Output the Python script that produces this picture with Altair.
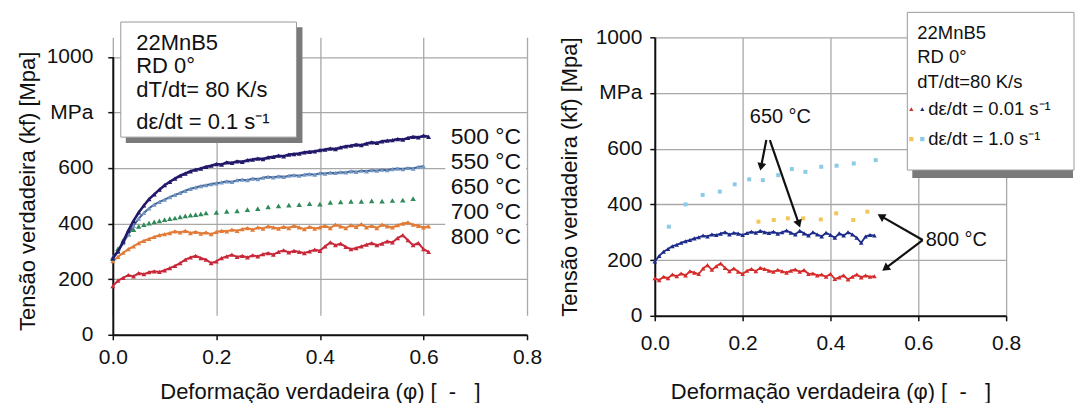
import math
import altair as alt
import pandas as pd

FONT = "Liberation Sans"
INK = "#111111"
GRID = "#a8a8a8"
NB = "\u00a0"

# ---------------- left panel: dε/dt = 0.1 s-1 ----------------
STRAIN_L = [0.00, 0.01, 0.02, 0.03, 0.04, 0.05, 0.06, 0.07, 0.08, 0.09,
            0.10, 0.11, 0.12, 0.13, 0.14, 0.15, 0.16, 0.17, 0.18, 0.19,
            0.20, 0.21, 0.22, 0.23, 0.24, 0.25, 0.26, 0.27, 0.28, 0.29,
            0.30, 0.31, 0.32, 0.33, 0.34, 0.35, 0.36, 0.37, 0.38, 0.39,
            0.40, 0.41, 0.42, 0.43, 0.44, 0.45, 0.46, 0.47, 0.48, 0.49,
            0.50, 0.51, 0.52, 0.53, 0.54, 0.55, 0.56, 0.57, 0.58, 0.59,
            0.60, 0.61]
T500 = [275, 300, 335, 375, 410, 440, 465, 488, 505, 522,
        538, 550, 562, 572, 580, 588, 594, 598, 604, 608,
        614, 612, 620, 618, 624, 622, 628, 630, 634, 632,
        638, 640, 644, 642, 648, 650, 652, 656, 658, 660,
        664, 666, 670, 668, 674, 678, 680, 684, 682, 688,
        692, 690, 696, 698, 700, 704, 702, 708, 712, 710,
        716, 712]
T550 = [280, 300, 330, 362, 392, 418, 438, 455, 468, 478,
        486, 495, 503, 510, 518, 525, 530, 535, 538, 542,
        545, 548, 552, 550, 556, 558, 556, 562, 560, 565,
        568, 566, 570, 568, 572, 574, 572, 576, 578, 576,
        581, 580, 583, 582, 585, 584, 588, 586, 590, 588,
        592, 590, 594, 592, 596, 598, 596, 600, 598, 604,
        606]
STRAIN_650 = [0.00, 0.01, 0.02, 0.03, 0.04, 0.05, 0.06, 0.07, 0.08, 0.09,
              0.10, 0.11, 0.12, 0.13, 0.14, 0.15, 0.16, 0.17, 0.18, 0.20,
              0.22, 0.24, 0.26, 0.28, 0.30, 0.32, 0.34, 0.36, 0.38, 0.40,
              0.42, 0.44, 0.46, 0.48, 0.50, 0.52, 0.54, 0.56, 0.58]
T650 = [275, 310, 340, 362, 378, 390, 396, 402, 406, 410,
        414, 418, 420, 424, 428, 430, 432, 435, 438, 440,
        444, 446, 450, 454, 460, 464, 466, 468, 472, 470,
        476, 478, 480, 480, 482, 481, 483, 484, 490]
T700 = [265, 280, 295, 308, 318, 330, 338, 345, 352, 358,
        362, 366, 372, 368, 374, 366, 370, 364, 368, 362,
        370, 374, 372, 378, 374, 380, 384, 378, 386, 382,
        390, 386, 382, 388, 384, 392, 386, 380, 388, 382,
        386, 392, 384, 396, 390, 384, 394, 388, 398, 386,
        392, 384, 396, 390, 386, 394, 400, 404, 396, 392,
        386, 390]
T800 = [175, 195, 205, 215, 210, 222, 218, 225, 228, 226,
        232, 240, 248, 258, 270, 278, 284, 276, 270, 258,
        264, 276, 282, 288, 280, 284, 278, 286, 282, 290,
        294, 288, 298, 304, 296, 302, 298, 294, 300, 306,
        302, 318, 332, 322, 328, 316, 308, 312, 318, 324,
        330, 322, 328, 336, 332, 348, 358, 340, 322, 330,
        308, 298]
TEMP_LABELS_L = ["500 °C", "550 °C", "650 °C", "700 °C", "800 °C"]
BOX_L = ["22MnB5", "RD 0°", "dT/dt= 80 K/s", "dε/dt = 0.1 s⁻¹"]

# ---------------- right panel: 0.01 and 1.0 s-1 ----------------
STRAIN_R = [0.00, 0.01, 0.02, 0.03, 0.04, 0.05, 0.06, 0.07, 0.08, 0.09,
            0.10, 0.11, 0.12, 0.13, 0.14, 0.15, 0.16, 0.17, 0.18, 0.19,
            0.20, 0.21, 0.22, 0.23, 0.24, 0.25, 0.26, 0.27, 0.28, 0.29,
            0.30, 0.31, 0.32, 0.33, 0.34, 0.35, 0.36, 0.37, 0.38, 0.39,
            0.40, 0.41, 0.42, 0.43, 0.44, 0.45, 0.46, 0.47, 0.48, 0.49,
            0.50]
R650_SLOW = [195, 215, 230, 240, 250, 255, 262, 268, 272, 278,
             282, 288, 285, 292, 290, 295, 300, 292, 298, 295,
             290, 297, 302, 298, 305, 300, 297, 302, 295, 300,
             306, 298, 292, 305, 296, 288, 300, 292, 285, 298,
             290, 280, 296, 288, 300, 292, 280, 262, 285, 290,
             288]
R800_SLOW = [135, 128, 140, 135, 148, 142, 152, 145, 160, 155,
             150, 170, 182, 165, 178, 188, 172, 160, 170, 158,
             150, 162, 168, 160, 172, 168, 162, 158, 165, 160,
             155, 162, 166, 158, 164, 150, 152, 145, 148, 140,
             150, 132, 138, 145, 130, 140, 148, 138, 145, 140,
             142]
STRAIN_650_FAST = [0.032, 0.070, 0.109, 0.148, 0.182, 0.215, 0.246,
                   0.281, 0.312, 0.343, 0.379, 0.414, 0.453, 0.503]
R650_FAST = [320, 400, 434, 446, 472, 490, 487, 505, 527, 517, 535, 539, 547, 559]
STRAIN_800_FAST = [0.236, 0.271, 0.303, 0.338, 0.378, 0.413, 0.452, 0.484]
R800_FAST = [338, 344, 350, 350, 346, 368, 344, 374]
BOX_R = ["22MnB5", "RD 0°", "dT/dt=80 K/s"]
LEG_R = ["dε/dt = 0.01 s⁻¹", "dε/dt = 1.0 s⁻¹"]

# annotation arrows (data units): start x, start y, end x, end y
ARROW_X0 = [0.254, 0.262, 0.610, 0.610]
ARROW_Y0 = [631, 631, 272, 272]
ARROW_X1 = [0.242, 0.328, 0.515, 0.525]
ARROW_Y1 = [535, 330, 358, 170]
NOTE_650 = (0.286, 714)
NOTE_800 = (0.617, 272)

# ---------------- geometry ----------------
W_L, H_L = 415, 298
RANGE_L = [298, 19.5]
W_R, H_R = 352, 279

C500, C550, C650, C700, C800 = "#22196a", "#5a80b4", "#2f8a5a", "#e27b36", "#c8283a"
C_SLOW650, C_SLOW800, C_FAST650, C_FAST800 = "#1d2c8a", "#d52b2b", "#8ccbe8", "#f3c65a"

one = pd.DataFrame({"a": [0]})


def frame(xs, ys):
    assert len(xs) == len(ys)
    return pd.DataFrame({"x": xs, "y": ys})


def y_axis(title_y, label_pad):
    return alt.Axis(values=[0, 200, 400, 600, 800, 1000], format="d",
                    labelExpr="datum.value == 800 ? 'MPa' : datum.label",
                    labelFont=FONT, labelFontSize=21, labelColor=INK,
                    labelPadding=label_pad, tickSize=5, tickColor="#111",
                    tickWidth=1.5, domainColor="#111", domainWidth=2,
                    grid=True, gridColor=GRID, gridWidth=1.3,
                    title="Tensão verdadeira (kf) [Mpa]", titleFont=FONT,
                    titleFontSize=22, titleFontWeight="normal", titleColor=INK,
                    titleAngle=270, titleBaseline="middle", titleAlign="center",
                    titleX=-85, titleY=title_y)


def x_axis(label_pad, title_y):
    return alt.Axis(values=[0, 0.2, 0.4, 0.6, 0.8], format=".1f",
                    labelFont=FONT, labelFontSize=21, labelColor=INK,
                    labelBaseline="middle", labelPadding=label_pad,
                    labelFlush=False, labelOverlap=False,
                    tickSize=5, tickColor="#111", tickWidth=1.5,
                    domainColor="#111", domainWidth=2,
                    grid=True, gridColor=GRID, gridWidth=1.3,
                    title=f"Deformação verdadeira (φ) [{NB}{NB}-{NB}{NB}{NB}]", titleFont=FONT,
                    titleFontSize=22, titleFontWeight="normal", titleColor=INK,
                    titleBaseline="middle", titleY=title_y)


XL = alt.X("x:Q", scale=alt.Scale(domain=[0, 0.8], nice=False, zero=False), axis=x_axis(18, 57))
YL = alt.Y("y:Q", scale=alt.Scale(domain=[0, 1000], range=RANGE_L, nice=False, zero=False),
           axis=y_axis((RANGE_L[0] + RANGE_L[1]) / 2 - 5, 15))
XR = alt.X("x:Q", scale=alt.Scale(domain=[0, 0.8], nice=False, zero=False), axis=x_axis(23, 76))
YR = alt.Y("y:Q", scale=alt.Scale(domain=[0, 1000], nice=False, zero=False), axis=y_axis(H_R / 2, 8))


def series(xs, ys, color, X, Y, size=24, line=True, shape="triangle-up", sw=2.0, line_color=None):
    base = alt.Chart(frame(xs, ys)).encode(x=X, y=Y)
    pts = base.mark_point(shape=shape, filled=True, size=size, color=color, opacity=1)
    if line:
        return [base.mark_line(color=line_color or color, strokeWidth=sw), pts]
    return [pts]


def rect(x, x2, y, y2, fill, stroke=None, sw=1):
    kw = dict(color=fill)
    if stroke:
        kw.update(stroke=stroke, strokeWidth=sw)
    return alt.Chart(one).mark_rect(**kw).encode(
        x=alt.value(x), x2=alt.value(x2), y=alt.value(y), y2=alt.value(y2))


def label(text, x, y, size, align="left"):
    return alt.Chart(one).mark_text(text=text, font=FONT, fontSize=size, color=INK,
                                    align=align, baseline="middle").encode(
        x=alt.value(x), y=alt.value(y))


# ---------------- left panel ----------------
left_layers = []
left_layers += series(STRAIN_L, T800, C800, XL, YL)
left_layers += series(STRAIN_L, T700, C700, XL, YL)
left_layers += series(STRAIN_650, T650, C650, XL, YL, size=30, line=False)
left_layers += series(STRAIN_L[:len(T550)], T550, "#7196c8", XL, YL, line_color="#44648f")
left_layers += series(STRAIN_L, T500, C500, XL, YL, sw=2.6)
# info box with shadow
left_layers.append(rect(13, 190, -10, 106, "#7a7a7a"))
left_layers.append(rect(8, 184, -15.3, 100, "white", "#9a9a9a", 1))
for txt, yy in zip(BOX_L, [5.5, 28.5, 53, 85]):
    left_layers.append(label(txt, 23.5, yy, 22))
# temperature labels on a white patch
left_layers.append(rect(333, 414, 86, 213, "white"))
for txt, yy in zip(TEMP_LABELS_L, [99.7, 124.7, 149.7, 174.7, 199.7]):
    left_layers.append(label(txt, 338.5, yy, 23))
# layout anchor (top-left corner of the page content)
left_layers.append(rect(-105, -104, -29, -28, "white"))
left = alt.layer(*left_layers).properties(width=W_L, height=H_L)

# ---------------- right panel ----------------
right_layers = []
right_layers += series(STRAIN_650_FAST, R650_FAST, C_FAST650, XR, YR, size=16, line=False, shape="square")
right_layers += series(STRAIN_800_FAST, R800_FAST, C_FAST800, XR, YR, size=16, line=False, shape="square")
right_layers += series(STRAIN_R, R800_SLOW, C_SLOW800, XR, YR, size=22, sw=1.8)
right_layers += series(STRAIN_R, R650_SLOW, C_SLOW650, XR, YR, size=22, sw=1.8)

PX_X = W_R / 0.8
PX_Y = H_R / 1000.0
angles = []
for x0, y0, x1, y1 in zip(ARROW_X0, ARROW_Y0, ARROW_X1, ARROW_Y1):
    dx = (x1 - x0) * PX_X
    dy = -(y1 - y0) * PX_Y
    angles.append(math.degrees(math.atan2(dx, -dy)) % 360)
arrows = pd.DataFrame({"x": ARROW_X0, "y": ARROW_Y0, "x2": ARROW_X1, "y2": ARROW_Y1, "ang": angles})
right_layers.append(alt.Chart(arrows).mark_rule(color="#111", strokeWidth=2.2).encode(
    x=XR, y=YR, x2="x2:Q", y2="y2:Q"))
right_layers.append(alt.Chart(arrows).mark_point(shape="triangle-up", filled=True, size=80,
                                                 color="#111", opacity=1).encode(
    x=alt.X("x2:Q", scale=alt.Scale(domain=[0, 0.8], nice=False, zero=False)),
    y=alt.Y("y2:Q", scale=alt.Scale(domain=[0, 1000], nice=False, zero=False)),
    angle=alt.Angle("ang:Q", scale=None)))
notes = pd.DataFrame({"x": [NOTE_650[0], NOTE_800[0]], "y": [NOTE_650[1], NOTE_800[1]],
                      "t": ["650 °C", "800 °C"]})
right_layers.append(alt.Chart(notes.iloc[[0]]).mark_text(font=FONT, fontSize=20, color=INK,
                                                          align="center", baseline="middle").encode(
    x=XR, y=YR, text="t:N"))
right_layers.append(alt.Chart(notes.iloc[[1]]).mark_text(font=FONT, fontSize=20, color=INK,
                                                          align="left", baseline="middle").encode(
    x=XR, y=YR, text="t:N"))
# legend box
right_layers.append(rect(258, 419, 133, 141, "#7a7a7a"))
right_layers.append(rect(253, 420, -25, 133, "white", "#9a9a9a", 1))
for txt, yy in zip(BOX_R, [-4, 20, 45]):
    right_layers.append(label(txt, 263, yy, 18.5))
for txt, yy, c1, c2, shp in zip(LEG_R, [72, 102], [C_SLOW800, C_FAST800], [C_SLOW650, C_FAST650],
                                ["triangle-up", "square"]):
    right_layers.append(alt.Chart(one).mark_point(shape=shp, filled=True, size=18, color=c1, opacity=1)
                        .encode(x=alt.value(257), y=alt.value(yy)))
    right_layers.append(alt.Chart(one).mark_point(shape=shp, filled=True, size=18, color=c2, opacity=1)
                        .encode(x=alt.value(268), y=alt.value(yy)))
    right_layers.append(label(txt, 274, yy, 18.5))
right = alt.layer(*right_layers).properties(width=W_R, height=H_R)

chart = (alt.hconcat(left, right, spacing=128, bounds="flush")
         .properties(padding=0)
         .configure_view(strokeWidth=0))

chart.save("out.html", embed_options={"renderer": "svg", "actions": False})
